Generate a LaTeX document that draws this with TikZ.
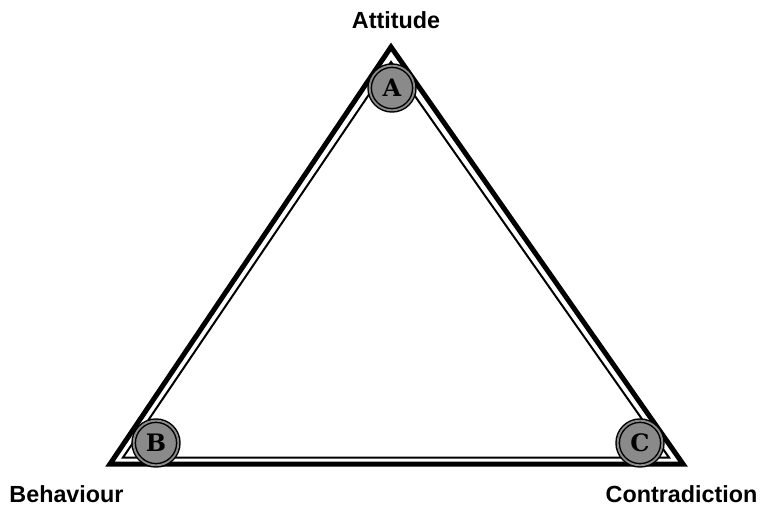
\documentclass[tikz,border=0pt]{standalone}
\usepackage{fontspec}
\setmainfont{Liberation Sans}
\newfontfamily\slabfont{DejaVu Serif}
\usetikzlibrary{positioning}
\definecolor{coingray}{HTML}{8A8A8A}

\begin{document}
\begin{tikzpicture}[
    x=0.75pt, y=-0.75pt,
    outer/.style={draw=black, line width=3.75pt, line join=miter},
    inner/.style={draw=black, line width=1.5pt, line join=miter},
    coin/.style={circle, draw=black, line width=1.1pt, double=coingray,
                 double distance=1.4pt, fill=coingray, inner sep=0pt,
                 minimum size=33.5pt, font=\slabfont\bfseries\fontsize{18}{18}\selectfont},
    vlabel/.style={anchor=base, font=\bfseries\fontsize{17.5}{20}\selectfont}
]
\useasboundingbox (0,0) rectangle (765,506);
% triangle corners
\coordinate (top) at (391,47);
\coordinate (left) at (110,464);
\coordinate (right) at (683,464);
\coordinate (itop) at (391,62);
\coordinate (ileft) at (123,457.5);
\coordinate (iright) at (669,457.5);
\draw[outer] (top) -- (left) -- (right) -- cycle;
\draw[inner] (itop) -- (ileft) -- (iright) -- cycle;
% corner coins
\node[coin] (A) at (392,88) {A};
\node[coin] (B) at (156,443) {B};
\node[coin] (C) at (640,443) {C};
% labels
\node[vlabel] (att) at (396,29) {Attitude};
\node[vlabel] (beh) at (66.5,502) {Behaviour};
\node[vlabel] (con) at (681.5,502) {Contradiction};
\end{tikzpicture}
\end{document}
